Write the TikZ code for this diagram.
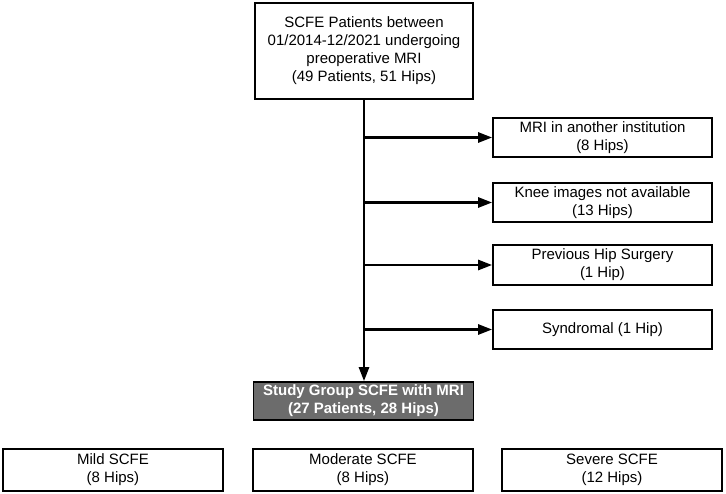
\documentclass[tikz,border=0pt]{standalone}
\usepackage{fontspec}
\setmainfont{Liberation Sans}
\usetikzlibrary{arrows.meta}
\definecolor{boxgray}{RGB}{108,108,108}
\begin{document}
\begin{tikzpicture}[x=1pt,y=-1pt,
  box/.style={draw=black, line width=1.7pt, fill=white, align=center, inner sep=0pt,
    font=\fontsize{15}{18}\selectfont},
  conn/.style={line width=2.6pt, -{Triangle[length=14pt,width=10pt]}},
  trunk/.style={line width=2.6pt}]
\useasboundingbox (0,0) rectangle (726,493);
\node[box, minimum width=218pt, minimum height=96pt] (top) at (364,51)
  {SCFE Patients between\\01/2014-12/2021 undergoing\\preoperative MRI\\(49 Patients, 51 Hips)};
\node[box, minimum width=219pt, minimum height=39pt] (mri) at (602.5,137.5)
  {MRI in another institution\\(8 Hips)};
\node[box, minimum width=219pt, minimum height=39pt] (knee) at (602.5,202.5)
  {Knee images not available\\(13 Hips)};
\node[box, minimum width=219pt, minimum height=40pt] (prev) at (602.5,265)
  {Previous Hip Surgery\\(1 Hip)};
\node[box, minimum width=219pt, minimum height=39pt] (synd) at (602.5,329.5)
  {Syndromal (1 Hip)};
\node[box, fill=boxgray, text=white, font=\fontsize{15}{18}\selectfont\bfseries,
  minimum width=220pt, minimum height=38pt] (study) at (363.5,401)
  {Study Group SCFE with MRI\\(27 Patients, 28 Hips)};
\node[box, minimum width=220pt, minimum height=42pt] (mild) at (113,470)
  {Mild SCFE\\(8 Hips)};
\node[box, minimum width=220pt, minimum height=42pt] (mod) at (363,470)
  {Moderate SCFE\\(8 Hips)};
\node[box, minimum width=220pt, minimum height=42pt] (sev) at (612,470)
  {Severe SCFE\\(12 Hips)};
\coordinate (t) at (364,99);
\draw[conn] (top.south -| t) -- (study.north -| t);
\draw[conn] (t |- mri.west) -- (mri.west);
\draw[conn] (t |- knee.west) -- (knee.west);
\draw[conn] (t |- prev.west) -- (prev.west);
\draw[conn] (t |- synd.west) -- (synd.west);
\end{tikzpicture}
\end{document}
